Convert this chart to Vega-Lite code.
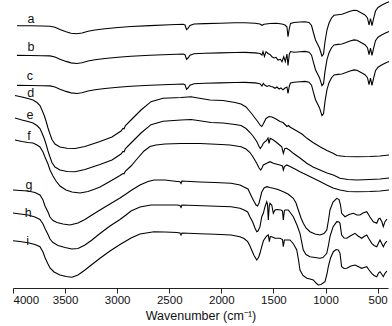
{
"$schema": "https://vega.github.io/schema/vega-lite/v6.json",
"width": 375,
"height": 288,
"autosize": {"type": "none"},
"padding": {"left": 13, "top": 0, "right": 4, "bottom": 38},
"background": "white",
"config": {"view": {"stroke": null}, "font": "Liberation Sans"},
"layer": [
{
"data": {"values": [
{"s":"a","w":3962,"t":262.3},{"s":"a","w":3837,"t":262.2},{"s":"a","w":3722,"t":262},{"s":"a","w":3645,"t":261.8},{"s":"a","w":3597,"t":260.7},{"s":"a","w":3549,"t":258.5},{"s":"a","w":3491,"t":256.3},{"s":"a","w":3443,"t":254.8},{"s":"a","w":3386,"t":254.2},{"s":"a","w":3338,"t":255},{"s":"a","w":3280,"t":256.7},{"s":"a","w":3213,"t":258},{"s":"a","w":3117,"t":259.2},{"s":"a","w":2992,"t":260.5},{"s":"a","w":2867,"t":261.5},{"s":"a","w":2685,"t":262.4},{"s":"a","w":2493,"t":263.2},{"s":"a","w":2368,"t":263.7},{"s":"a","w":2349,"t":263},{"s":"a","w":2334,"t":258.5},{"s":"a","w":2320,"t":259.7},{"s":"a","w":2301,"t":262.5},{"s":"a","w":2262,"t":264},{"s":"a","w":2157,"t":264.4},{"s":"a","w":2013,"t":264.8},{"s":"a","w":1869,"t":265.2},{"s":"a","w":1773,"t":265.3},{"s":"a","w":1677,"t":264.8},{"s":"a","w":1629,"t":264},{"s":"a","w":1610,"t":262.7},{"s":"a","w":1590,"t":263.8},{"s":"a","w":1533,"t":264.5},{"s":"a","w":1475,"t":264.7},{"s":"a","w":1418,"t":264},{"s":"a","w":1389,"t":263},{"s":"a","w":1370,"t":261},{"s":"a","w":1360,"t":251.3},{"s":"a","w":1350,"t":258},{"s":"a","w":1336,"t":264.5},{"s":"a","w":1302,"t":265.5},{"s":"a","w":1245,"t":266},{"s":"a","w":1197,"t":266.3},{"s":"a","w":1158,"t":265.5},{"s":"a","w":1134,"t":262.5},{"s":"a","w":1115,"t":255},{"s":"a","w":1096,"t":248},{"s":"a","w":1077,"t":244},{"s":"a","w":1058,"t":240},{"s":"a","w":1034,"t":232},{"s":"a","w":1019,"t":234},{"s":"a","w":1005,"t":246},{"s":"a","w":986,"t":258},{"s":"a","w":966,"t":265},{"s":"a","w":942,"t":270},{"s":"a","w":918,"t":272.7},{"s":"a","w":880,"t":273.3},{"s":"a","w":842,"t":273.7},{"s":"a","w":803,"t":275.2},{"s":"a","w":765,"t":276.8},{"s":"a","w":726,"t":277.8},{"s":"a","w":698,"t":277.5},{"s":"a","w":659,"t":275.2},{"s":"a","w":621,"t":273},{"s":"a","w":597,"t":270},{"s":"a","w":582,"t":263},{"s":"a","w":568,"t":269.5},{"s":"a","w":554,"t":262.3},{"s":"a","w":539,"t":269},{"s":"a","w":520,"t":277},{"s":"a","w":496,"t":280.5},{"s":"a","w":458,"t":283},{"s":"a","w":419,"t":285},{"s":"a","w":390,"t":286.2},
{"s":"b","w":3962,"t":232.6},{"s":"b","w":3837,"t":232.5},{"s":"b","w":3722,"t":232.3},{"s":"b","w":3645,"t":232.1},{"s":"b","w":3597,"t":231},{"s":"b","w":3549,"t":228.8},{"s":"b","w":3491,"t":226.6},{"s":"b","w":3443,"t":225.1},{"s":"b","w":3386,"t":224.5},{"s":"b","w":3338,"t":225.3},{"s":"b","w":3280,"t":227},{"s":"b","w":3213,"t":228.3},{"s":"b","w":3117,"t":229.5},{"s":"b","w":2992,"t":230.8},{"s":"b","w":2867,"t":231.8},{"s":"b","w":2685,"t":232.7},{"s":"b","w":2493,"t":233.5},{"s":"b","w":2368,"t":234},{"s":"b","w":2349,"t":233.3},{"s":"b","w":2334,"t":228.8},{"s":"b","w":2320,"t":230},{"s":"b","w":2301,"t":232.8},{"s":"b","w":2262,"t":234.3},{"s":"b","w":2157,"t":234.7},{"s":"b","w":2013,"t":235.1},{"s":"b","w":1869,"t":235.5},{"s":"b","w":1773,"t":235.6},{"s":"b","w":1677,"t":235.1},{"s":"b","w":1629,"t":234.5},{"s":"b","w":1610,"t":233},{"s":"b","w":1600,"t":236.3},{"s":"b","w":1586,"t":231.5},{"s":"b","w":1571,"t":236.3},{"s":"b","w":1552,"t":234.5},{"s":"b","w":1533,"t":233.5},{"s":"b","w":1514,"t":231.3},{"s":"b","w":1494,"t":230},{"s":"b","w":1475,"t":230.7},{"s":"b","w":1456,"t":228},{"s":"b","w":1432,"t":228.7},{"s":"b","w":1418,"t":226.3},{"s":"b","w":1401,"t":231.3},{"s":"b","w":1386,"t":226.3},{"s":"b","w":1370,"t":234},{"s":"b","w":1360,"t":222.5},{"s":"b","w":1347,"t":234},{"s":"b","w":1336,"t":236.5},{"s":"b","w":1302,"t":235.8},{"s":"b","w":1245,"t":236.3},{"s":"b","w":1197,"t":236.6},{"s":"b","w":1158,"t":235.8},{"s":"b","w":1134,"t":232.8},{"s":"b","w":1115,"t":225.3},{"s":"b","w":1096,"t":218.3},{"s":"b","w":1077,"t":214.3},{"s":"b","w":1058,"t":210.3},{"s":"b","w":1034,"t":202.3},{"s":"b","w":1019,"t":204.3},{"s":"b","w":1005,"t":216.3},{"s":"b","w":986,"t":228.3},{"s":"b","w":966,"t":235.3},{"s":"b","w":942,"t":240.3},{"s":"b","w":918,"t":243},{"s":"b","w":880,"t":243.6},{"s":"b","w":842,"t":244},{"s":"b","w":803,"t":245.5},{"s":"b","w":765,"t":247.1},{"s":"b","w":726,"t":248.1},{"s":"b","w":698,"t":247.8},{"s":"b","w":659,"t":245.5},{"s":"b","w":621,"t":243.3},{"s":"b","w":597,"t":240.3},{"s":"b","w":582,"t":233.3},{"s":"b","w":568,"t":239.8},{"s":"b","w":554,"t":232.6},{"s":"b","w":539,"t":239.3},{"s":"b","w":520,"t":247.3},{"s":"b","w":496,"t":250.8},{"s":"b","w":458,"t":253.3},{"s":"b","w":419,"t":255.3},{"s":"b","w":390,"t":256.5},
{"s":"c","w":3962,"t":202.6},{"s":"c","w":3837,"t":202.5},{"s":"c","w":3722,"t":202.3},{"s":"c","w":3645,"t":202.1},{"s":"c","w":3597,"t":201},{"s":"c","w":3549,"t":198.8},{"s":"c","w":3491,"t":196.6},{"s":"c","w":3443,"t":195.1},{"s":"c","w":3386,"t":194.5},{"s":"c","w":3338,"t":195.3},{"s":"c","w":3280,"t":197},{"s":"c","w":3213,"t":198.3},{"s":"c","w":3117,"t":199.5},{"s":"c","w":2992,"t":200.8},{"s":"c","w":2867,"t":201.8},{"s":"c","w":2685,"t":202.7},{"s":"c","w":2493,"t":203.5},{"s":"c","w":2368,"t":204},{"s":"c","w":2349,"t":203.3},{"s":"c","w":2334,"t":198.8},{"s":"c","w":2320,"t":200},{"s":"c","w":2301,"t":202.8},{"s":"c","w":2262,"t":204.3},{"s":"c","w":2157,"t":204.7},{"s":"c","w":2013,"t":205.1},{"s":"c","w":1869,"t":205.5},{"s":"c","w":1773,"t":205.6},{"s":"c","w":1677,"t":205.1},{"s":"c","w":1629,"t":204.3},{"s":"c","w":1610,"t":202},{"s":"c","w":1597,"t":204.5},{"s":"c","w":1581,"t":202.7},{"s":"c","w":1562,"t":201.5},{"s":"c","w":1542,"t":202.5},{"s":"c","w":1523,"t":201.5},{"s":"c","w":1504,"t":201},{"s":"c","w":1485,"t":199.7},{"s":"c","w":1466,"t":201},{"s":"c","w":1446,"t":199},{"s":"c","w":1427,"t":200},{"s":"c","w":1408,"t":198.2},{"s":"c","w":1389,"t":200},{"s":"c","w":1370,"t":201},{"s":"c","w":1360,"t":194.5},{"s":"c","w":1347,"t":202},{"s":"c","w":1336,"t":205},{"s":"c","w":1302,"t":205.8},{"s":"c","w":1245,"t":206.3},{"s":"c","w":1197,"t":206.6},{"s":"c","w":1158,"t":205.8},{"s":"c","w":1134,"t":202.8},{"s":"c","w":1115,"t":195.3},{"s":"c","w":1096,"t":188.3},{"s":"c","w":1077,"t":184.3},{"s":"c","w":1058,"t":180.3},{"s":"c","w":1034,"t":172.3},{"s":"c","w":1019,"t":174.3},{"s":"c","w":1005,"t":186.3},{"s":"c","w":986,"t":198.3},{"s":"c","w":966,"t":205.3},{"s":"c","w":942,"t":210.3},{"s":"c","w":918,"t":213},{"s":"c","w":880,"t":213.6},{"s":"c","w":842,"t":214},{"s":"c","w":803,"t":215.5},{"s":"c","w":765,"t":217.1},{"s":"c","w":726,"t":218.1},{"s":"c","w":698,"t":217.8},{"s":"c","w":659,"t":215.5},{"s":"c","w":621,"t":213.3},{"s":"c","w":597,"t":210.3},{"s":"c","w":582,"t":203.3},{"s":"c","w":568,"t":209.8},{"s":"c","w":554,"t":202.6},{"s":"c","w":539,"t":209.3},{"s":"c","w":520,"t":217.3},{"s":"c","w":496,"t":220.8},{"s":"c","w":458,"t":223.3},{"s":"c","w":419,"t":225.3},{"s":"c","w":390,"t":226.5},
{"s":"d","w":3981,"t":192.5},{"s":"d","w":3914,"t":191},{"s":"d","w":3856,"t":189.5},{"s":"d","w":3808,"t":188},{"s":"d","w":3770,"t":185.5},{"s":"d","w":3741,"t":182.5},{"s":"d","w":3722,"t":178},{"s":"d","w":3702,"t":173},{"s":"d","w":3683,"t":167},{"s":"d","w":3664,"t":160},{"s":"d","w":3645,"t":154},{"s":"d","w":3626,"t":148.5},{"s":"d","w":3597,"t":144},{"s":"d","w":3549,"t":141},{"s":"d","w":3482,"t":139.7},{"s":"d","w":3405,"t":139.5},{"s":"d","w":3309,"t":141.5},{"s":"d","w":3165,"t":146.5},{"s":"d","w":3050,"t":151},{"s":"d","w":2963,"t":157},{"s":"d","w":2944,"t":159.5},{"s":"d","w":2934,"t":159.2},{"s":"d","w":2920,"t":162.5},{"s":"d","w":2867,"t":168},{"s":"d","w":2771,"t":178},{"s":"d","w":2675,"t":186.3},{"s":"d","w":2560,"t":189.7},{"s":"d","w":2387,"t":190.5},{"s":"d","w":2291,"t":191.3},{"s":"d","w":2224,"t":190},{"s":"d","w":2109,"t":188},{"s":"d","w":1984,"t":187.5},{"s":"d","w":1869,"t":185.5},{"s":"d","w":1811,"t":184},{"s":"d","w":1763,"t":181},{"s":"d","w":1734,"t":177.5},{"s":"d","w":1706,"t":174},{"s":"d","w":1677,"t":170},{"s":"d","w":1648,"t":166},{"s":"d","w":1629,"t":163},{"s":"d","w":1612,"t":161.5},{"s":"d","w":1600,"t":163.5},{"s":"d","w":1571,"t":169.5},{"s":"d","w":1542,"t":171.5},{"s":"d","w":1514,"t":171},{"s":"d","w":1475,"t":169},{"s":"d","w":1437,"t":166.5},{"s":"d","w":1408,"t":165.5},{"s":"d","w":1384,"t":163},{"s":"d","w":1370,"t":161.5},{"s":"d","w":1355,"t":162.5},{"s":"d","w":1341,"t":161},{"s":"d","w":1283,"t":157.5},{"s":"d","w":1226,"t":154},{"s":"d","w":1178,"t":149.7},{"s":"d","w":1120,"t":145.5},{"s":"d","w":1053,"t":141.3},{"s":"d","w":986,"t":137.5},{"s":"d","w":928,"t":134.7},{"s":"d","w":890,"t":132.5},{"s":"d","w":813,"t":131.5},{"s":"d","w":698,"t":131.3},{"s":"d","w":573,"t":131.5},{"s":"d","w":477,"t":132},{"s":"d","w":390,"t":133},
{"s":"e","w":3981,"t":170},{"s":"e","w":3914,"t":168},{"s":"e","w":3856,"t":166.5},{"s":"e","w":3808,"t":165},{"s":"e","w":3770,"t":162.5},{"s":"e","w":3741,"t":159.5},{"s":"e","w":3722,"t":155},{"s":"e","w":3702,"t":150},{"s":"e","w":3683,"t":144},{"s":"e","w":3664,"t":137},{"s":"e","w":3645,"t":131},{"s":"e","w":3626,"t":125.5},{"s":"e","w":3597,"t":121},{"s":"e","w":3549,"t":118},{"s":"e","w":3482,"t":116.5},{"s":"e","w":3405,"t":116.3},{"s":"e","w":3309,"t":118.5},{"s":"e","w":3165,"t":123.5},{"s":"e","w":3050,"t":128},{"s":"e","w":2963,"t":134},{"s":"e","w":2944,"t":136.5},{"s":"e","w":2934,"t":136.2},{"s":"e","w":2920,"t":139.5},{"s":"e","w":2867,"t":145},{"s":"e","w":2771,"t":155},{"s":"e","w":2675,"t":163.3},{"s":"e","w":2560,"t":166.7},{"s":"e","w":2387,"t":168},{"s":"e","w":2291,"t":168.5},{"s":"e","w":2224,"t":167.5},{"s":"e","w":2099,"t":165.5},{"s":"e","w":1984,"t":165},{"s":"e","w":1869,"t":163.5},{"s":"e","w":1811,"t":162.5},{"s":"e","w":1763,"t":159.5},{"s":"e","w":1725,"t":155.5},{"s":"e","w":1696,"t":152},{"s":"e","w":1660,"t":146.5},{"s":"e","w":1638,"t":141.5},{"s":"e","w":1626,"t":139.5},{"s":"e","w":1610,"t":142},{"s":"e","w":1597,"t":144.7},{"s":"e","w":1581,"t":146.3},{"s":"e","w":1566,"t":147.5},{"s":"e","w":1552,"t":150},{"s":"e","w":1542,"t":144.5},{"s":"e","w":1531,"t":149.7},{"s":"e","w":1516,"t":149},{"s":"e","w":1501,"t":148},{"s":"e","w":1475,"t":146},{"s":"e","w":1446,"t":143.5},{"s":"e","w":1420,"t":141.3},{"s":"e","w":1405,"t":134.7},{"s":"e","w":1391,"t":139.5},{"s":"e","w":1372,"t":139.7},{"s":"e","w":1341,"t":137.5},{"s":"e","w":1309,"t":134.7},{"s":"e","w":1245,"t":130},{"s":"e","w":1180,"t":124.7},{"s":"e","w":1120,"t":121},{"s":"e","w":1053,"t":118},{"s":"e","w":986,"t":115},{"s":"e","w":925,"t":113},{"s":"e","w":861,"t":109.7},{"s":"e","w":784,"t":108.5},{"s":"e","w":700,"t":108},{"s":"e","w":573,"t":108.5},{"s":"e","w":477,"t":109},{"s":"e","w":390,"t":110},
{"s":"f","w":3981,"t":148},{"s":"f","w":3914,"t":146.5},{"s":"f","w":3856,"t":145.5},{"s":"f","w":3808,"t":145},{"s":"f","w":3770,"t":143},{"s":"f","w":3741,"t":141},{"s":"f","w":3712,"t":136},{"s":"f","w":3693,"t":131},{"s":"f","w":3664,"t":124},{"s":"f","w":3645,"t":118},{"s":"f","w":3616,"t":112},{"s":"f","w":3587,"t":107},{"s":"f","w":3549,"t":102},{"s":"f","w":3491,"t":98},{"s":"f","w":3434,"t":96},{"s":"f","w":3357,"t":95},{"s":"f","w":3280,"t":96.5},{"s":"f","w":3213,"t":99},{"s":"f","w":3165,"t":101},{"s":"f","w":3088,"t":105.5},{"s":"f","w":3021,"t":109.5},{"s":"f","w":2973,"t":112.5},{"s":"f","w":2944,"t":114.5},{"s":"f","w":2934,"t":114.2},{"s":"f","w":2920,"t":117},{"s":"f","w":2867,"t":122},{"s":"f","w":2810,"t":129},{"s":"f","w":2742,"t":137},{"s":"f","w":2685,"t":141.5},{"s":"f","w":2627,"t":143},{"s":"f","w":2541,"t":144},{"s":"f","w":2387,"t":144.5},{"s":"f","w":2205,"t":144.5},{"s":"f","w":2003,"t":143.5},{"s":"f","w":1917,"t":143},{"s":"f","w":1811,"t":141.3},{"s":"f","w":1763,"t":139},{"s":"f","w":1725,"t":135.5},{"s":"f","w":1696,"t":131},{"s":"f","w":1660,"t":124.7},{"s":"f","w":1638,"t":120},{"s":"f","w":1622,"t":118},{"s":"f","w":1610,"t":120},{"s":"f","w":1597,"t":123},{"s":"f","w":1564,"t":124.7},{"s":"f","w":1533,"t":126.3},{"s":"f","w":1501,"t":124.7},{"s":"f","w":1475,"t":124},{"s":"f","w":1437,"t":123},{"s":"f","w":1413,"t":122},{"s":"f","w":1405,"t":118},{"s":"f","w":1394,"t":121.5},{"s":"f","w":1372,"t":123},{"s":"f","w":1341,"t":121.5},{"s":"f","w":1293,"t":119},{"s":"f","w":1245,"t":116.3},{"s":"f","w":1180,"t":113},{"s":"f","w":1117,"t":109.7},{"s":"f","w":1053,"t":106.5},{"s":"f","w":988,"t":103},{"s":"f","w":928,"t":100},{"s":"f","w":861,"t":98},{"s":"f","w":784,"t":96.5},{"s":"f","w":700,"t":96.3},{"s":"f","w":573,"t":96.5},{"s":"f","w":477,"t":97},{"s":"f","w":390,"t":98},
{"s":"g","w":4000,"t":98},{"s":"g","w":3933,"t":97.5},{"s":"g","w":3856,"t":97},{"s":"g","w":3789,"t":95.5},{"s":"g","w":3741,"t":93},{"s":"g","w":3712,"t":88},{"s":"g","w":3693,"t":82},{"s":"g","w":3664,"t":76},{"s":"g","w":3645,"t":71},{"s":"g","w":3616,"t":67.5},{"s":"g","w":3578,"t":65.5},{"s":"g","w":3520,"t":64},{"s":"g","w":3453,"t":63},{"s":"g","w":3376,"t":65},{"s":"g","w":3309,"t":68.5},{"s":"g","w":3242,"t":73},{"s":"g","w":3165,"t":78},{"s":"g","w":3069,"t":84},{"s":"g","w":2973,"t":90},{"s":"g","w":2915,"t":94},{"s":"g","w":2867,"t":97.5},{"s":"g","w":2781,"t":103},{"s":"g","w":2704,"t":106.5},{"s":"g","w":2646,"t":108},{"s":"g","w":2541,"t":108},{"s":"g","w":2445,"t":106.8},{"s":"g","w":2397,"t":106.2},{"s":"g","w":2387,"t":104.5},{"s":"g","w":2378,"t":107},{"s":"g","w":2301,"t":106.5},{"s":"g","w":2205,"t":106},{"s":"g","w":2061,"t":105.5},{"s":"g","w":1907,"t":104.7},{"s":"g","w":1821,"t":103},{"s":"g","w":1773,"t":100.5},{"s":"g","w":1744,"t":99},{"s":"g","w":1709,"t":91.3},{"s":"g","w":1686,"t":86.5},{"s":"g","w":1667,"t":83},{"s":"g","w":1653,"t":82},{"s":"g","w":1638,"t":85},{"s":"g","w":1612,"t":96},{"s":"g","w":1590,"t":100},{"s":"g","w":1562,"t":101.3},{"s":"g","w":1533,"t":100.5},{"s":"g","w":1501,"t":99.7},{"s":"g","w":1456,"t":98.5},{"s":"g","w":1405,"t":96.3},{"s":"g","w":1360,"t":94},{"s":"g","w":1309,"t":89.7},{"s":"g","w":1283,"t":85},{"s":"g","w":1261,"t":78},{"s":"g","w":1235,"t":70},{"s":"g","w":1213,"t":64.7},{"s":"g","w":1187,"t":60},{"s":"g","w":1149,"t":56.3},{"s":"g","w":1101,"t":54},{"s":"g","w":1053,"t":53},{"s":"g","w":1014,"t":54.5},{"s":"g","w":988,"t":58},{"s":"g","w":971,"t":68},{"s":"g","w":957,"t":78},{"s":"g","w":928,"t":86},{"s":"g","w":892,"t":89.7},{"s":"g","w":870,"t":88.5},{"s":"g","w":856,"t":83},{"s":"g","w":845,"t":74.7},{"s":"g","w":813,"t":71.3},{"s":"g","w":774,"t":73.5},{"s":"g","w":733,"t":74.7},{"s":"g","w":698,"t":73},{"s":"g","w":669,"t":73},{"s":"g","w":640,"t":75},{"s":"g","w":604,"t":76.3},{"s":"g","w":573,"t":71},{"s":"g","w":541,"t":66.3},{"s":"g","w":508,"t":64.7},{"s":"g","w":491,"t":69},{"s":"g","w":477,"t":69.7},{"s":"g","w":458,"t":66},{"s":"g","w":445,"t":61.3},{"s":"g","w":429,"t":66.3},{"s":"g","w":410,"t":69},
{"s":"h","w":4000,"t":75},{"s":"h","w":3933,"t":74},{"s":"h","w":3856,"t":73},{"s":"h","w":3789,"t":71},{"s":"h","w":3741,"t":68.5},{"s":"h","w":3712,"t":64},{"s":"h","w":3693,"t":59.5},{"s":"h","w":3664,"t":53.5},{"s":"h","w":3645,"t":49},{"s":"h","w":3616,"t":45.5},{"s":"h","w":3568,"t":42.5},{"s":"h","w":3501,"t":40.5},{"s":"h","w":3434,"t":39},{"s":"h","w":3376,"t":39.5},{"s":"h","w":3309,"t":43},{"s":"h","w":3242,"t":48},{"s":"h","w":3165,"t":54.5},{"s":"h","w":3069,"t":62},{"s":"h","w":2973,"t":68.5},{"s":"h","w":2915,"t":73},{"s":"h","w":2867,"t":77},{"s":"h","w":2781,"t":81},{"s":"h","w":2675,"t":83},{"s":"h","w":2541,"t":83},{"s":"h","w":2426,"t":83},{"s":"h","w":2397,"t":82.5},{"s":"h","w":2387,"t":80.5},{"s":"h","w":2378,"t":83},{"s":"h","w":2253,"t":82.5},{"s":"h","w":2109,"t":82},{"s":"h","w":1907,"t":81.3},{"s":"h","w":1821,"t":79.7},{"s":"h","w":1782,"t":78},{"s":"h","w":1747,"t":76},{"s":"h","w":1725,"t":71},{"s":"h","w":1699,"t":66},{"s":"h","w":1677,"t":60},{"s":"h","w":1660,"t":56.3},{"s":"h","w":1648,"t":57},{"s":"h","w":1629,"t":61.3},{"s":"h","w":1612,"t":71.3},{"s":"h","w":1597,"t":74.7},{"s":"h","w":1581,"t":81.3},{"s":"h","w":1564,"t":86.3},{"s":"h","w":1557,"t":84},{"s":"h","w":1549,"t":68},{"s":"h","w":1540,"t":82},{"s":"h","w":1533,"t":84.7},{"s":"h","w":1516,"t":83},{"s":"h","w":1501,"t":74.7},{"s":"h","w":1485,"t":78},{"s":"h","w":1466,"t":78.5},{"s":"h","w":1427,"t":78},{"s":"h","w":1413,"t":77},{"s":"h","w":1405,"t":68},{"s":"h","w":1395,"t":77},{"s":"h","w":1389,"t":78},{"s":"h","w":1357,"t":78},{"s":"h","w":1309,"t":71.3},{"s":"h","w":1274,"t":63},{"s":"h","w":1245,"t":54.7},{"s":"h","w":1213,"t":38},{"s":"h","w":1187,"t":33.5},{"s":"h","w":1149,"t":31.3},{"s":"h","w":1101,"t":30.5},{"s":"h","w":1053,"t":29.7},{"s":"h","w":1024,"t":30.5},{"s":"h","w":988,"t":34.7},{"s":"h","w":971,"t":43},{"s":"h","w":957,"t":51.3},{"s":"h","w":928,"t":61},{"s":"h","w":892,"t":66.3},{"s":"h","w":870,"t":66},{"s":"h","w":861,"t":64.7},{"s":"h","w":845,"t":53},{"s":"h","w":822,"t":50},{"s":"h","w":796,"t":49.7},{"s":"h","w":755,"t":52.5},{"s":"h","w":717,"t":54.7},{"s":"h","w":688,"t":52},{"s":"h","w":652,"t":49.7},{"s":"h","w":630,"t":51.5},{"s":"h","w":604,"t":53},{"s":"h","w":582,"t":49},{"s":"h","w":556,"t":44.7},{"s":"h","w":534,"t":42.5},{"s":"h","w":508,"t":41.3},{"s":"h","w":491,"t":45},{"s":"h","w":477,"t":48},{"s":"h","w":458,"t":44},{"s":"h","w":445,"t":41.3},{"s":"h","w":429,"t":44.7},{"s":"h","w":410,"t":47},
{"s":"i","w":4000,"t":47.3},{"s":"i","w":3933,"t":46.5},{"s":"i","w":3856,"t":45.3},{"s":"i","w":3789,"t":43.5},{"s":"i","w":3741,"t":41.3},{"s":"i","w":3712,"t":36},{"s":"i","w":3693,"t":30.5},{"s":"i","w":3664,"t":24},{"s":"i","w":3645,"t":20},{"s":"i","w":3606,"t":16},{"s":"i","w":3549,"t":13},{"s":"i","w":3491,"t":11.5},{"s":"i","w":3434,"t":10.7},{"s":"i","w":3376,"t":13},{"s":"i","w":3309,"t":18},{"s":"i","w":3242,"t":23.5},{"s":"i","w":3165,"t":29.7},{"s":"i","w":3069,"t":37},{"s":"i","w":2973,"t":43.5},{"s":"i","w":2915,"t":47},{"s":"i","w":2867,"t":50},{"s":"i","w":2781,"t":54},{"s":"i","w":2646,"t":56.3},{"s":"i","w":2541,"t":56},{"s":"i","w":2426,"t":55.5},{"s":"i","w":2397,"t":55},{"s":"i","w":2387,"t":53},{"s":"i","w":2378,"t":55},{"s":"i","w":2205,"t":54.2},{"s":"i","w":2061,"t":53.7},{"s":"i","w":1907,"t":53},{"s":"i","w":1821,"t":51.3},{"s":"i","w":1782,"t":49.5},{"s":"i","w":1747,"t":46.3},{"s":"i","w":1725,"t":42},{"s":"i","w":1709,"t":38},{"s":"i","w":1686,"t":32.5},{"s":"i","w":1660,"t":28},{"s":"i","w":1643,"t":30.5},{"s":"i","w":1629,"t":34.7},{"s":"i","w":1612,"t":41.3},{"s":"i","w":1597,"t":47},{"s":"i","w":1581,"t":49.7},{"s":"i","w":1564,"t":52},{"s":"i","w":1549,"t":53},{"s":"i","w":1539,"t":46.3},{"s":"i","w":1530,"t":51.5},{"s":"i","w":1516,"t":51.3},{"s":"i","w":1485,"t":49.7},{"s":"i","w":1437,"t":49.7},{"s":"i","w":1413,"t":48.5},{"s":"i","w":1405,"t":41.3},{"s":"i","w":1395,"t":48},{"s":"i","w":1341,"t":48},{"s":"i","w":1307,"t":44},{"s":"i","w":1276,"t":38},{"s":"i","w":1259,"t":28},{"s":"i","w":1245,"t":18},{"s":"i","w":1216,"t":12.5},{"s":"i","w":1180,"t":9.7},{"s":"i","w":1149,"t":9},{"s":"i","w":1117,"t":8},{"s":"i","w":1091,"t":5},{"s":"i","w":1069,"t":3},{"s":"i","w":1043,"t":3.5},{"s":"i","w":1005,"t":6.3},{"s":"i","w":986,"t":14},{"s":"i","w":973,"t":21.3},{"s":"i","w":952,"t":30},{"s":"i","w":925,"t":36.3},{"s":"i","w":899,"t":38.5},{"s":"i","w":877,"t":38},{"s":"i","w":861,"t":34.7},{"s":"i","w":845,"t":21.3},{"s":"i","w":822,"t":19.5},{"s":"i","w":796,"t":19.7},{"s":"i","w":755,"t":22},{"s":"i","w":717,"t":23},{"s":"i","w":688,"t":21.5},{"s":"i","w":652,"t":19.7},{"s":"i","w":630,"t":20.5},{"s":"i","w":604,"t":21.3},{"s":"i","w":582,"t":18},{"s":"i","w":556,"t":14.7},{"s":"i","w":534,"t":12.5},{"s":"i","w":508,"t":11.3},{"s":"i","w":491,"t":15},{"s":"i","w":477,"t":16.3},{"s":"i","w":458,"t":13.5},{"s":"i","w":445,"t":11.3},{"s":"i","w":429,"t":14.7},{"s":"i","w":410,"t":17}
]},
"mark": {"type": "line", "color": "#000000", "strokeWidth": 1.1, "clip": false},
"encoding": {
"x": {"field": "w", "type": "quantitative", "scale": {"domain": [4000, 400], "nice": false, "zero": false},
"axis": {"values": [4000,3750,3500,3250,3000,2750,2500,2250,2000,1750,1500,1250,1000,750,500], "format": "d",
"labelExpr": "datum.value % 500 === 0 ? datum.label : ''",
"tickSize": {"condition": {"test": "datum.value % 500 === 0", "value": 5}, "value": 3},
"tickColor": "#222", "domainColor": "#222", "domainWidth": 1.2, "labelColor": "#111", "titleColor": "#111",
"labelFontSize": 11.5, "labelPadding": 1, "labelFont": "Liberation Sans", "titleFont": "Liberation Sans",
"titleFontSize": 12.5, "titleFontWeight": "normal", "titlePadding": 4, "grid": false,
"title": "Wavenumber (cm⁻¹)"}},
"y": {"field": "t", "type": "quantitative", "scale": {"domain": [0, 288], "nice": false, "zero": false}, "axis": null},
"detail": {"field": "s"}
}
},
{
"data": {"values": [
{"l":"a","w":3827,"t":265.5},{"l":"b","w":3827,"t":237.3},{"l":"c","w":3837,"t":208},{"l":"d","w":3830,"t":191.5},{"l":"e","w":3837,"t":169},{"l":"f","w":3846,"t":148},{"l":"g","w":3846,"t":99.5},{"l":"h","w":3853,"t":71.5},{"l":"i","w":3859,"t":43}
]},
"mark": {"type": "text", "fontSize": 12.5, "font": "Liberation Sans", "color": "#111", "baseline": "alphabetic", "align": "center"},
"encoding": {
"x": {"field": "w", "type": "quantitative"},
"y": {"field": "t", "type": "quantitative"},
"text": {"field": "l"}
}
}
]
}
